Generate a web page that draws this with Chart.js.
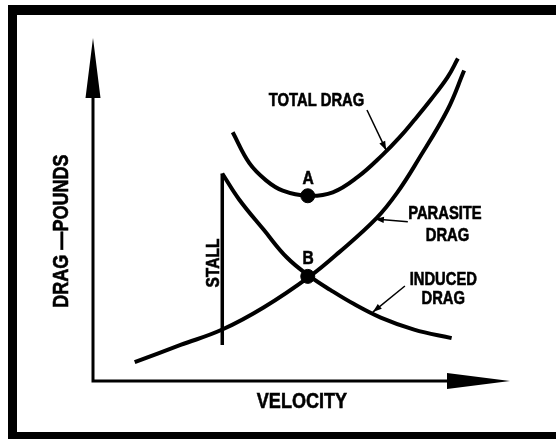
<!DOCTYPE html>
<html>
<head>
<meta charset="utf-8">
<script src="https://cdn.jsdelivr.net/npm/chart.js@4.4.1/dist/chart.umd.min.js"></script>
<style>
html, body { margin: 0; padding: 0; background: #fff; width: 556px; height: 439px; overflow: hidden; }
#frame {
    position: absolute; left: 8px; top: 5px;
    width: 600px; height: 417px;
    border-top: 10px solid #000; border-bottom: 10px solid #000;
    border-left: 9px solid #000; border-right: none;
}
#drag-chart { position: absolute; left: 0; top: 0; }
</style>
</head>
<body>
<div id="frame"></div>
<canvas id="drag-chart" width="556" height="439"></canvas>
<script>
// Curves (velocity / drag in arbitrary units 0..100)
var parasiteVelocity = [10, 21, 31, 41, 52, 59, 68, 73, 78, 85, 89];
var parasiteDrag = [5.5, 10.5, 15, 21.5, 30.5, 37.5, 47.5, 55, 64.5, 79, 90.5];

var inducedVelocity = [31, 35, 41, 46.5, 52, 57, 62.5, 69, 77, 86];
var inducedDrag = [60.5, 53, 44, 36, 30.5, 26.5, 22.5, 18.5, 15, 12.5];

var totalVelocity = [33.5, 37.5, 41.5, 45.5, 51.5, 57.5, 63.5, 69.5, 73.5, 77, 81, 85, 87.5];
var totalDrag = [72.5, 63.5, 58.5, 55.5, 54, 55, 59.5, 66, 71, 76, 82, 88.5, 94];

var stallVelocity = [31, 31];
var stallDrag = [10.5, 60.5];

var markLabels = ["A", "B"];
var markVelocity = [51.5, 51.5];
var markDrag = [54, 30.5];

function toPoints(xs, ys) {
    return xs.map(function (x, i) { return { x: x, y: ys[i] }; });
}

// text and callout arrows, placed in data units
var annotations = [
    { text: "TOTAL DRAG", x: 53.6, y: 82, size: 18 },
    { text: "A", x: 51.6, y: 59.5, size: 19 },
    { text: "B", x: 51.6, y: 36.2, size: 19 },
    { text: "PARASITE", x: 84.4, y: 49, size: 18 },
    { text: "DRAG", x: 85, y: 42.6, size: 18 },
    { text: "INDUCED", x: 84, y: 30, size: 18 },
    { text: "DRAG", x: 84, y: 24.2, size: 18 },
    { text: "STALL", x: 28.5, y: 34.4, size: 19, vertical: true },
    { text: "VELOCITY", x: 50.1, y: -5.5, size: 22 },
    { text: "DRAG \u2014POUNDS", x: -7.9, y: 43.7, size: 22, vertical: true }
];
var callouts = [
    { from: [65.7, 79], to: [70.3, 67.3] },
    { from: [75.5, 46.4], to: [67.6, 47.2] },
    { from: [74.8, 27.7], to: [67.1, 20.1] }
];

function arrowHead(ctx, x0, y0, x1, y1, len, half) {
    var a = Math.atan2(y1 - y0, x1 - x0);
    var bx = x1 - Math.cos(a) * len, by = y1 - Math.sin(a) * len;
    ctx.beginPath();
    ctx.moveTo(x1, y1);
    ctx.lineTo(bx + Math.sin(a) * half, by - Math.cos(a) * half);
    ctx.lineTo(bx - Math.sin(a) * half, by + Math.cos(a) * half);
    ctx.closePath();
    ctx.fill();
}

function drawLabel(ctx, item, px, py) {
    ctx.save();
    ctx.translate(px, py);
    if (item.vertical) ctx.rotate(-Math.PI / 2);
    ctx.scale(0.82, 1);
    ctx.font = "bold " + item.size + "px 'Liberation Sans', Arial, sans-serif";
    ctx.textAlign = "center";
    ctx.textBaseline = "alphabetic";
    ctx.lineWidth = 0.6;
    ctx.strokeStyle = "#000";
    ctx.fillText(item.text, 0, item.size * 0.36);
    ctx.strokeText(item.text, 0, item.size * 0.36);
    ctx.restore();
}

var diagramPlugin = {
    id: "diagram",
    beforeDatasetsDraw: function (chart) {
        var ctx = chart.ctx, xs = chart.scales.x, ys = chart.scales.y;
        var ox = xs.getPixelForValue(0), oy = ys.getPixelForValue(0);
        var xTip = xs.getPixelForValue(100), yTip = ys.getPixelForValue(100);
        ctx.save();
        ctx.strokeStyle = "#000";
        ctx.fillStyle = "#000";
        ctx.lineWidth = 3;
        ctx.lineCap = "square";
        ctx.beginPath();
        ctx.moveTo(ox, yTip + 50);
        ctx.lineTo(ox, oy);
        ctx.lineTo(xTip - 50, oy);
        ctx.stroke();
        arrowHead(ctx, ox, oy, ox, yTip, 60, 7.5);
        arrowHead(ctx, ox, oy, xTip, oy, 63, 8);
        ctx.restore();
    },
    afterDatasetsDraw: function (chart) {
        var ctx = chart.ctx, xs = chart.scales.x, ys = chart.scales.y;
        ctx.save();
        ctx.fillStyle = "#000";
        ctx.strokeStyle = "#000";
        ctx.lineWidth = 1.5;
        callouts.forEach(function (c) {
            var x0 = xs.getPixelForValue(c.from[0]), y0 = ys.getPixelForValue(c.from[1]);
            var x1 = xs.getPixelForValue(c.to[0]), y1 = ys.getPixelForValue(c.to[1]);
            ctx.beginPath();
            ctx.moveTo(x0, y0);
            ctx.lineTo(x1, y1);
            ctx.stroke();
            arrowHead(ctx, x0, y0, x1, y1, 9, 3.2);
        });
        annotations.forEach(function (a) {
            drawLabel(ctx, a, xs.getPixelForValue(a.x), ys.getPixelForValue(a.y));
        });
        ctx.restore();
    }
};

var curveStyle = {
    showLine: true,
    borderColor: "#000",
    borderWidth: 4,
    pointRadius: 0,
    tension: 0.4,
    clip: false
};

var dragChart = new Chart(document.getElementById("drag-chart").getContext("2d"), {
    type: "scatter",
    data: {
        datasets: [
            Object.assign({ label: "Total drag", data: toPoints(totalVelocity, totalDrag) }, curveStyle),
            Object.assign({ label: "Parasite drag", data: toPoints(parasiteVelocity, parasiteDrag) }, curveStyle),
            Object.assign({ label: "Induced drag", data: toPoints(inducedVelocity, inducedDrag) }, curveStyle),
            {
                label: "Stall",
                data: toPoints(stallVelocity, stallDrag),
                showLine: true,
                borderColor: "#000",
                borderWidth: 3.5,
                pointRadius: 0,
                clip: false
            },
            {
                label: markLabels.join(", "),
                data: toPoints(markVelocity, markDrag),
                showLine: false,
                pointRadius: 7,
                pointBackgroundColor: "#000",
                pointBorderColor: "#000",
                clip: false
            }
        ]
    },
    options: {
        responsive: false,
        animation: false,
        events: [],
        layout: { padding: { left: 93, top: 38, right: 46, bottom: 58 } },
        plugins: { legend: { display: false }, tooltip: { enabled: false }, title: { display: false } },
        scales: {
            x: { type: "linear", min: 0, max: 100, display: false },
            y: { type: "linear", min: 0, max: 100, display: false }
        }
    },
    plugins: [diagramPlugin]
});
</script>
</body>
</html>
